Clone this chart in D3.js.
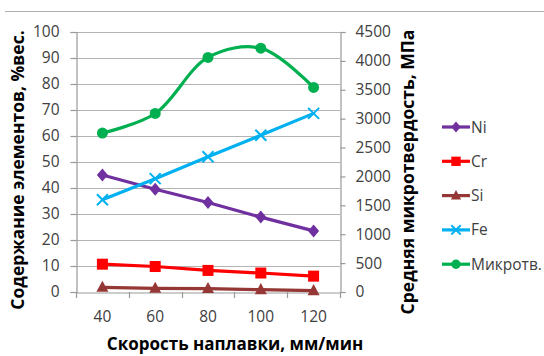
<!DOCTYPE html>
<html>
<head>
<meta charset="utf-8">
<script src="https://cdn.jsdelivr.net/npm/d3@7"></script>
<style>
  html, body { margin: 0; padding: 0; background: #fff; }
  svg { display: block; }
  text { font-family: "Open Sans", "Noto Sans", sans-serif; }
</style>
</head>
<body>
<svg id="chart" width="544" height="356"></svg>
<script>
// Deposition speed, mm/min
const speeds = ["40", "60", "80", "100", "120"];

// Element content, wt.% (left axis)
const ni = [45, 39.5, 34.4, 28.8, 23.5];
const cr = [10.7, 9.8, 8.3, 7.3, 6.1];
const si = [1.8, 1.4, 1.3, 0.9, 0.5];
const fe = [35.5, 43.6, 52.0, 60.3, 68.7];

// Average microhardness, MPa (right axis)
const microhardness = [2750, 3090, 4060, 4220, 3540];

const leftTicks = [0, 10, 20, 30, 40, 50, 60, 70, 80, 90, 100];
const rightTicks = [0, 500, 1000, 1500, 2000, 2500, 3000, 3500, 4000, 4500];

const seriesNames = ["Ni", "Cr", "Si", "Fe", "Микротв."];

const svg = d3.select("#chart");
const margin = { left: 76, right: 204, top: 32, bottom: 64 };
const W = 544, H = 356;
const x0 = margin.left, x1 = W - margin.right;
const y0 = H - margin.bottom, y1 = margin.top;

const x = d3.scaleBand().domain(speeds).range([x0, x1]);
const yL = d3.scaleLinear().domain([0, 100]).range([y0, y1]);
const yR = d3.scaleLinear().domain([0, 4500]).range([y0, y1]);

const gridColor = "#b3b3b3";
const axisColor = "#999";
const labelColor = "#404040";

// top rule
svg.append("line").attr("x1", 5).attr("x2", 544).attr("y1", 11.5).attr("y2", 11.5)
  .attr("stroke", "#b0b0b0").attr("stroke-width", 1.2);

// horizontal gridlines
svg.append("g").selectAll("line").data(leftTicks.slice(1)).join("line")
  .attr("x1", x0).attr("x2", x1)
  .attr("y1", d => Math.round(yL(d)) + 0.5).attr("y2", d => Math.round(yL(d)) + 0.5)
  .attr("stroke", gridColor).attr("stroke-width", 1.2);

// left axis
const gL = svg.append("g").attr("transform", `translate(${x0 + 0.5},0)`)
  .call(d3.axisLeft(yL).tickValues(leftTicks).tickSize(6).tickPadding(11));
// right axis
const gR = svg.append("g").attr("transform", `translate(${x1 + 0.5},0)`)
  .call(d3.axisRight(yR).tickValues(rightTicks).tickFormat(d3.format("d")).tickSize(5).tickPadding(10));
// bottom axis
const gB = svg.append("g").attr("transform", `translate(0,${y0 + 0.5})`)
  .call(d3.axisBottom(x).tickSize(0).tickPadding(18));
// bottom tick marks at category boundaries
svg.append("g").selectAll("line").data(d3.range(speeds.length + 1)).join("line")
  .attr("x1", i => Math.round(x0 + i * x.step()) + 0.5)
  .attr("x2", i => Math.round(x0 + i * x.step()) + 0.5)
  .attr("y1", y0).attr("y2", y0 + 6)
  .attr("stroke", axisColor).attr("stroke-width", 1.2);

[gL, gR, gB].forEach(g => {
  g.selectAll(".domain").attr("stroke", axisColor).attr("stroke-width", 1.2);
  g.selectAll(".tick line").attr("stroke", axisColor).attr("stroke-width", 1.2);
  g.selectAll(".tick text").attr("fill", labelColor)
    .style("font-family", "'Open Sans', sans-serif").style("font-size", "15.5px");
});

// axis titles
svg.append("text")
  .attr("transform", `translate(24,${170}) rotate(-90)`)
  .attr("text-anchor", "middle").attr("font-weight", "bold").attr("font-size", 17.5)
  .attr("fill", "#000").text("Содержание элементов, %вес.");
svg.append("text")
  .attr("transform", `translate(414,${172}) rotate(-90)`)
  .attr("text-anchor", "middle").attr("font-weight", "bold").attr("font-size", 17.5)
  .attr("fill", "#000").text("Средняя микротвердость, МПа");
svg.append("text")
  .attr("x", 235).attr("y", 350)
  .attr("text-anchor", "middle").attr("font-weight", "bold").attr("font-size", 17)
  .attr("fill", "#000").text("Скорость наплавки, мм/мин");

const cx = (d, i) => x(speeds[i]) + x.bandwidth() / 2;

const series = [
  { name: seriesNames[0], values: ni, scale: yL, color: "#7030A0", marker: "diamond" },
  { name: seriesNames[1], values: cr, scale: yL, color: "#FF0000", marker: "square" },
  { name: seriesNames[2], values: si, scale: yL, color: "#953735", marker: "triangle" },
  { name: seriesNames[3], values: fe, scale: yL, color: "#00B0F0", marker: "cross" },
  { name: seriesNames[4], values: microhardness, scale: yR, color: "#00B050", marker: "circle", smooth: true }
];

function drawMarker(g, type, color, px, py, s = 1) {
  if (type === "diamond") {
    const r = 6.5 * s;
    g.append("path").attr("d", `M${px},${py - r}L${px + r * 0.85},${py}L${px},${py + r}L${px - r * 0.85},${py}Z`)
      .attr("fill", color);
  } else if (type === "square") {
    const r = 5.5 * s;
    g.append("rect").attr("x", px - r).attr("y", py - r).attr("width", 2 * r).attr("height", 2 * r)
      .attr("fill", color);
  } else if (type === "triangle") {
    const r = 6 * s;
    g.append("path").attr("d", `M${px},${py - r * 1.1}L${px + r},${py + r * 0.75}L${px - r},${py + r * 0.75}Z`)
      .attr("fill", color);
  } else if (type === "cross") {
    const r = 5.5 * s;
    g.append("path").attr("d", `M${px - r},${py - r}L${px + r},${py + r}M${px - r},${py + r}L${px + r},${py - r}`)
      .attr("stroke", color).attr("stroke-width", 2);
  } else if (type === "circle") {
    g.append("circle").attr("cx", px).attr("cy", py).attr("r", 5.5 * s).attr("fill", color);
  }
}

series.forEach(s => {
  const line = d3.line()
    .x((d, i) => cx(d, i))
    .y(d => s.scale(d))
    .curve(s.smooth ? d3.curveCatmullRom.alpha(0.5) : d3.curveLinear);
  svg.append("path").datum(s.values).attr("d", line)
    .attr("fill", "none").attr("stroke", s.color).attr("stroke-width", 3.2)
    .attr("stroke-linejoin", "round");
  const g = svg.append("g");
  s.values.forEach((v, i) => drawMarker(g, s.marker, s.color, cx(v, i), s.scale(v)));
});

// legend
const legend = svg.append("g");
series.forEach((s, i) => {
  const ly = 127 + i * 34.3;
  legend.append("line").attr("x1", 442).attr("x2", 470).attr("y1", ly).attr("y2", ly)
    .attr("stroke", s.color).attr("stroke-width", 3.2);
  drawMarker(legend, s.marker, s.color, 456, ly, 0.85);
  legend.append("text").attr("x", 471).attr("y", ly + 5.5)
    .attr("fill", labelColor).attr("font-size", 15.5).text(s.name);
});
</script>
</body>
</html>
